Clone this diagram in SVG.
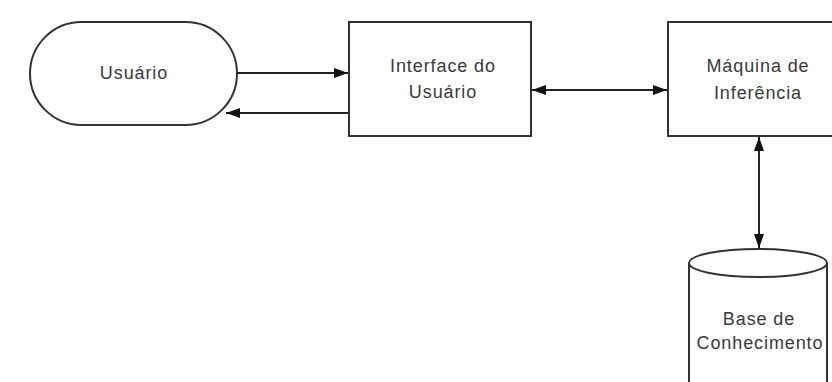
<svg xmlns="http://www.w3.org/2000/svg" width="832" height="382" viewBox="0 0 832 382">
<defs>
<style>
.shape{fill:#fff;stroke:#333;stroke-width:2}
.conn{fill:none;stroke:#222;stroke-width:2}
text{font-family:"Liberation Sans",Arial,sans-serif;font-size:18px;letter-spacing:0.9px;fill:#3a3a3a;text-anchor:middle}
</style>
<marker id="ah" viewBox="0 0 14 10" refX="14" refY="5" markerWidth="14" markerHeight="10" markerUnits="userSpaceOnUse" orient="auto-start-reverse">
<path d="M0,0 L14,5 L0,10 Z" fill="#111"/>
</marker>
</defs>
<rect width="832" height="382" fill="#fff"/>
<g id="usuario">
<rect class="shape" x="30" y="22" width="207" height="103" rx="51.5" ry="51.5"/>
<text x="134" y="79">Usuário</text>
</g>
<g id="interface">
<rect class="shape" x="349" y="22" width="182" height="114"/>
<text x="443" y="72">Interface do</text>
<text x="443" y="98">Usuário</text>
</g>
<g id="maquina">
<rect class="shape" x="668" y="22" width="182" height="114"/>
<text x="758" y="72">Máquina de</text>
<text x="758" y="99">Inferência</text>
</g>
<g id="base">
<path class="shape" d="M689,263 L689,385 A69,14 0 0 0 827,385 L827,263"/>
<ellipse class="shape" cx="758" cy="263" rx="69" ry="14"/>
<text x="759" y="325">Base de</text>
<text x="760" y="349">Conhecimento</text>
</g>
<g id="connectors">
<line class="conn" x1="237" y1="73" x2="348" y2="73" marker-end="url(#ah)"/>
<line class="conn" x1="349" y1="113" x2="226" y2="113" marker-end="url(#ah)"/>
<line class="conn" x1="532" y1="90" x2="667" y2="90" marker-start="url(#ah)" marker-end="url(#ah)"/>
<line class="conn" x1="759" y1="137" x2="759" y2="248" marker-start="url(#ah)" marker-end="url(#ah)"/>
</g>
</svg>
